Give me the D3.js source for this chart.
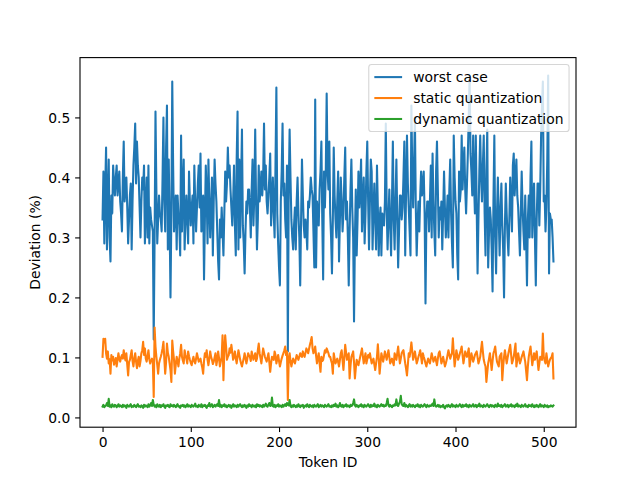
<!DOCTYPE html>
<html><head><meta charset="utf-8">
<script src="https://cdn.jsdelivr.net/npm/d3@7"></script>
<style>body{margin:0;background:#fff}svg{display:block}text{font-family:"DejaVu Sans",sans-serif}</style>
</head><body>
<script>
const worstCase = [
0.33,0.41,0.29,0.38,0.45,0.28,0.36,0.43,0.30,0.26,
0.37,0.34,0.42,0.39,0.37,0.40,0.42,0.37,0.39,0.41,
0.36,0.34,0.31,0.40,0.46,0.36,0.38,0.40,0.35,0.29,
0.33,0.37,0.39,0.28,0.36,0.42,0.45,0.49,0.39,0.46,
0.42,0.40,0.35,0.30,0.36,0.40,0.38,0.42,0.29,0.35,
0.40,0.30,0.42,0.29,0.35,0.33,0.32,0.31,0.13,0.30,
0.51,0.38,0.29,0.33,0.37,0.34,0.33,0.31,0.40,0.50,
0.36,0.31,0.45,0.52,0.28,0.43,0.33,0.20,0.34,0.56,
0.42,0.31,0.34,0.37,0.28,0.37,0.34,0.32,0.27,0.47,
0.31,0.38,0.43,0.28,0.33,0.37,0.33,0.29,0.41,0.36,
0.32,0.35,0.37,0.29,0.42,0.36,0.31,0.35,0.39,0.42,
0.35,0.44,0.31,0.34,0.37,0.23,0.33,0.42,0.37,0.29,
0.43,0.36,0.30,0.35,0.40,0.27,0.36,0.43,0.39,0.36,
0.31,0.26,0.23,0.33,0.30,0.35,0.31,0.27,0.34,0.41,
0.36,0.39,0.45,0.40,0.42,0.38,0.35,0.32,0.36,0.42,
0.32,0.27,0.43,0.51,0.28,0.43,0.30,0.39,0.48,0.32,
0.29,0.24,0.31,0.36,0.34,0.38,0.38,0.35,0.30,0.38,
0.43,0.32,0.37,0.48,0.36,0.28,0.33,0.42,0.36,0.38,
0.41,0.37,0.40,0.49,0.38,0.42,0.36,0.34,0.37,0.40,
0.44,0.32,0.36,0.40,0.34,0.30,0.42,0.55,0.34,0.29,
0.25,0.22,0.36,0.41,0.49,0.37,0.39,0.33,0.30,0.42,
0.11,0.38,0.48,0.40,0.33,0.30,0.28,0.32,0.35,0.28,
0.36,0.40,0.34,0.30,0.22,0.33,0.43,0.37,0.32,0.30,
0.33,0.31,0.28,0.36,0.35,0.37,0.40,0.38,0.37,0.31,
0.25,0.53,0.25,0.36,0.34,0.32,0.38,0.41,0.46,0.33,
0.23,0.41,0.35,0.41,0.54,0.41,0.38,0.46,0.34,0.30,
0.24,0.33,0.45,0.37,0.33,0.30,0.36,0.41,0.26,0.33,
0.40,0.36,0.31,0.34,0.40,0.45,0.33,0.36,0.30,0.22,
0.31,0.38,0.43,0.35,0.30,0.16,0.30,0.38,0.27,0.33,
0.41,0.35,0.38,0.43,0.31,0.36,0.40,0.29,0.34,0.41,
0.46,0.36,0.28,0.36,0.43,0.41,0.28,0.34,0.39,0.33,
0.28,0.42,0.35,0.27,0.33,0.35,0.27,0.34,0.33,0.32,
0.36,0.49,0.35,0.28,0.33,0.38,0.32,0.27,0.36,0.46,
0.33,0.28,0.36,0.43,0.33,0.25,0.31,0.37,0.37,0.33,
0.35,0.40,0.46,0.27,0.38,0.47,0.39,0.35,0.31,0.27,
0.52,0.41,0.35,0.42,0.50,0.35,0.27,0.32,0.36,0.31,
0.37,0.41,0.37,0.39,0.41,0.34,0.19,0.33,0.36,0.36,
0.31,0.36,0.42,0.30,0.44,0.36,0.31,0.27,0.41,0.46,
0.38,0.30,0.35,0.33,0.36,0.28,0.34,0.41,0.35,0.30,
0.33,0.37,0.30,0.38,0.43,0.34,0.29,0.25,0.47,0.40,
0.36,0.34,0.27,0.23,0.41,0.36,0.38,0.47,0.38,0.42,
0.45,0.38,0.34,0.39,0.44,0.50,0.57,0.44,0.41,0.37,
0.47,0.39,0.34,0.47,0.35,0.24,0.33,0.41,0.47,0.40,
0.36,0.42,0.47,0.34,0.27,0.41,0.48,0.25,0.31,0.35,
0.33,0.28,0.21,0.36,0.47,0.30,0.24,0.34,0.40,0.33,
0.27,0.35,0.39,0.32,0.28,0.20,0.32,0.39,0.34,0.30,
0.27,0.33,0.40,0.36,0.31,0.42,0.44,0.37,0.40,0.43,
0.37,0.35,0.31,0.27,0.34,0.41,0.35,0.31,0.28,0.37,
0.30,0.22,0.33,0.37,0.30,0.40,0.46,0.30,0.35,0.39,
0.30,0.22,0.33,0.39,0.39,0.32,0.38,0.47,0.52,0.56,
0.36,0.37,0.31,0.35,0.43,0.57,0.24,0.34,0.33,0.33,
0.30,0.26];

const staticQuant = [
.101,.131,.125,.131,.107,.098,.110,.090,.097,.073,
.104,.095,.101,.088,.093,.099,.085,.096,.107,.097,
.093,.100,.104,.098,.112,.101,.095,.107,.088,.070,
.092,.096,.104,.112,.094,.085,.098,.107,.093,.082,
.094,.101,.085,.094,.107,.112,.126,.104,.115,.098,
.093,.102,.112,.097,.090,.095,.098,.092,.034,.150,
.118,.101,.088,.073,.090,.096,.101,.107,.115,.126,
.098,.073,.092,.123,.108,.101,.090,.079,.059,.128,
.110,.096,.073,.088,.101,.094,.085,.098,.107,.121,
.101,.095,.090,.112,.104,.098,.090,.110,.102,.096,
.091,.087,.095,.101,.094,.090,.098,.107,.100,.093,
.095,.098,.090,.083,.073,.094,.107,.101,.112,.096,
.087,.098,.110,.101,.096,.089,.093,.100,.107,.087,
.096,.110,.099,.085,.093,.101,.137,.062,.112,.137,
.118,.096,.101,.104,.115,.108,.121,.109,.096,.101,
.110,.098,.090,.101,.112,.104,.096,.090,.085,.092,
.098,.107,.099,.090,.097,.107,.103,.101,.094,.110,
.103,.096,.101,.107,.094,.098,.112,.123,.107,.099,
.090,.103,.115,.108,.101,.097,.093,.100,.107,.092,
.076,.090,.101,.098,.096,.110,.104,.090,.097,.104,
.094,.085,.092,.098,.103,.107,.112,.118,.104,.110,
.029,.098,.107,.094,.085,.092,.098,.094,.090,.097,
.104,.100,.096,.101,.107,.103,.101,.110,.104,.101,
.108,.115,.111,.107,.114,.121,.127,.134,.115,.107,
.112,.118,.103,.090,.099,.107,.090,.076,.101,.094,
.096,.104,.112,.108,.115,.111,.107,.101,.101,.095,
.090,.073,.107,.098,.090,.094,.098,.092,.085,.096,
.107,.112,.095,.079,.100,.121,.108,.096,.102,.107,
.065,.086,.101,.105,.110,.092,.065,.082,.096,.091,
.087,.094,.101,.108,.115,.102,.090,.098,.107,.090,
.097,.104,.100,.107,.098,.090,.094,.098,.088,.079,
.090,.101,.122,.099,.073,.090,.107,.100,.093,.101,
.110,.103,.096,.104,.112,.101,.090,.094,.098,.092,
.087,.107,.101,.096,.107,.118,.103,.090,.098,.107,
.110,.112,.101,.090,.081,.070,.088,.107,.101,.112,
.125,.110,.096,.103,.110,.100,.090,.095,.101,.106,
.112,.101,.090,.107,.101,.096,.090,.085,.092,.098,
.094,.090,.098,.107,.100,.093,.097,.101,.094,.087,
.098,.107,.110,.100,.090,.095,.101,.093,.085,.090,
.096,.104,.112,.105,.098,.103,.107,.132,.107,.085,
.098,.112,.104,.096,.101,.107,.112,.118,.104,.090,
.100,.110,.105,.101,.108,.115,.085,.096,.107,.100,
.093,.098,.104,.107,.110,.100,.090,.095,.101,.114,
.126,.110,.096,.090,.085,.059,.075,.090,.098,.107,
.093,.079,.094,.107,.112,.118,.104,.093,.089,.085,
.101,.104,.107,.062,.085,.101,.112,.101,.090,.099,
.107,.114,.121,.105,.090,.095,.101,.112,.123,.085,
.096,.107,.098,.090,.095,.101,.105,.110,.101,.093,
.078,.062,.085,.101,.110,.118,.103,.087,.097,.107,
.096,.103,.110,.095,.079,.090,.101,.098,.096,.140,
.101,.095,.090,.107,.096,.085,.091,.096,.099,.101,
.107,.065];

const dynamicQuant = [
.018,.021,.017,.019,.020,.024,.019,.031,.018,.020,
.017,.022,.019,.018,.021,.020,.017,.019,.022,.018,
.020,.019,.017,.021,.018,.020,.019,.016,.021,.019,
.018,.020,.022,.017,.019,.018,.021,.019,.017,.020,
.022,.018,.019,.017,.020,.019,.016,.021,.018,.020,
.019,.017,.022,.018,.020,.024,.019,.029,.021,.018,
.020,.017,.022,.019,.018,.021,.017,.020,.019,.022,
.018,.016,.020,.019,.021,.018,.017,.022,.019,.020,
.018,.021,.019,.017,.020,.022,.018,.019,.016,.020,
.019,.021,.018,.020,.017,.019,.022,.018,.020,.019,
.017,.021,.019,.018,.020,.023,.018,.019,.017,.021,
.019,.018,.022,.017,.020,.019,.021,.018,.016,.020,
.019,.024,.018,.020,.022,.017,.019,.021,.018,.020,
.022,.019,.029,.018,.021,.017,.020,.019,.022,.018,
.020,.017,.019,.021,.018,.020,.016,.019,.022,.018,
.020,.019,.017,.021,.018,.020,.022,.019,.017,.020,
.018,.021,.019,.016,.020,.018,.022,.019,.020,.017,
.021,.019,.018,.020,.017,.022,.019,.021,.018,.020,
.019,.017,.021,.018,.020,.023,.019,.018,.021,.024,
.019,.020,.033,.019,.018,.021,.017,.020,.019,.022,
.018,.020,.019,.017,.021,.018,.020,.022,.019,.024,
.021,.020,.029,.019,.017,.020,.018,.021,.019,.017,
.020,.018,.022,.019,.017,.020,.019,.021,.016,.019,
.020,.018,.022,.019,.017,.021,.019,.018,.020,.017,
.021,.019,.018,.020,.022,.017,.019,.021,.018,.020,
.019,.017,.021,.019,.018,.020,.022,.018,.019,.017,
.020,.018,.021,.019,.023,.018,.020,.017,.019,.024,
.019,.018,.021,.017,.020,.019,.022,.018,.020,.019,
.017,.021,.019,.020,.024,.030,.020,.018,.021,.019,
.017,.020,.019,.022,.018,.020,.017,.021,.019,.018,
.020,.022,.019,.017,.021,.018,.020,.019,.023,.018,
.020,.017,.021,.019,.018,.020,.022,.019,.021,.018,
.020,.019,.024,.031,.020,.018,.021,.019,.017,.020,
.019,.022,.020,.030,.021,.019,.023,.026,.036,.022,
.020,.019,.024,.018,.021,.019,.017,.020,.022,.018,
.020,.018,.021,.019,.017,.020,.019,.022,.018,.020,
.017,.021,.019,.018,.020,.022,.019,.017,.021,.019,
.018,.020,.019,.021,.023,.019,.030,.020,.018,.019,
.021,.018,.020,.017,.019,.018,.021,.017,.015,.019,
.020,.018,.021,.019,.017,.020,.022,.018,.020,.019,
.017,.021,.019,.018,.020,.022,.019,.017,.021,.018,
.020,.019,.022,.018,.020,.017,.021,.019,.018,.020,
.022,.018,.019,.021,.017,.020,.019,.023,.018,.020,
.019,.017,.021,.019,.018,.020,.022,.019,.017,.020,
.021,.018,.020,.019,.017,.021,.019,.018,.023,.019,
.020,.018,.021,.017,.019,.020,.022,.018,.019,.021,
.017,.020,.019,.022,.018,.020,.019,.017,.021,.019,
.023,.018,.020,.019,.017,.021,.019,.018,.020,.022,
.018,.019,.017,.021,.019,.020,.018,.022,.019,.017,
.020,.018,.021,.019,.017,.020,.022,.018,.020,.019,
.017,.021,.019,.018,.020,.017,.019,.018,.020,.019,
.018,.020];

const seriesNames = ["worst case", "static quantization", "dynamic quantization"];
const seriesColors = ["#1f77b4", "#ff7f0e", "#2ca02c"];
const xTicks = [0, 100, 200, 300, 400, 500];
const yTicks = [0.0, 0.1, 0.2, 0.3, 0.4, 0.5];
const xLabel = "Token ID";
const yLabel = "Deviation (%)";

const W = 640, H = 480;
const L = 80, R = 576, T = 57.6, B = 427.2;
const FS = 13.89;

const svg = d3.select("body").append("svg").attr("width", W).attr("height", H);
const x = d3.scaleLinear().domain([-25.55, 536.55]).range([L, R]);
const y = d3.scaleLinear().domain([-0.0163, 0.5997]).range([B, T]);

const allSeries = [worstCase, staticQuant, dynamicQuant];
const line = d3.line().x((d, i) => x(i)).y(d => y(d));

const g = svg.append("g");
allSeries.forEach((s, k) => {
  g.append("path").datum(s).attr("d", line)
    .attr("fill", "none").attr("stroke", seriesColors[k])
    .attr("stroke-width", 2.08).attr("stroke-linejoin", "round").attr("stroke-linecap", "square");
});

// axes
const xAxis = d3.axisBottom(x).tickValues(xTicks).tickFormat(d3.format("d")).tickSize(4.86).tickPadding(4.5);
const yAxis = d3.axisLeft(y).tickValues(yTicks).tickFormat(d3.format(".1f")).tickSize(4.86).tickPadding(4.86);
const gx = svg.append("g").attr("transform", `translate(0,${B})`).call(xAxis);
const gy = svg.append("g").attr("transform", `translate(${L},0)`).call(yAxis);
[gx, gy].forEach(a => {
  a.select(".domain").remove();
  a.selectAll(".tick line").attr("stroke", "#000").attr("stroke-width", 1.1);
  a.selectAll(".tick text").attr("font-size", FS).attr("fill", "#000").attr("font-family", "DejaVu Sans");
});
gx.selectAll(".tick text").attr("dy", "0.76em");
gy.selectAll(".tick text").attr("dy", "0.36em");

svg.append("rect").attr("x", L).attr("y", T).attr("width", R - L).attr("height", B - T)
  .attr("fill", "none").attr("stroke", "#000").attr("stroke-width", 1.1);

svg.append("text").attr("x", (L + R) / 2).attr("y", 467).attr("text-anchor", "middle")
  .attr("font-size", FS).text(xLabel);
svg.append("text").attr("transform", `translate(39.5,${(T + B) / 2}) rotate(-90)`)
  .attr("text-anchor", "middle").attr("font-size", FS).text(yLabel);

// legend
const lg = svg.append("g");
const pad = 0.4 * FS, handleLen = 2 * FS, handleGap = 0.8 * FS, rowH = 14, rowGap = 0.5 * FS;
const texts = seriesNames.map(n => lg.append("text").attr("font-size", FS).text(n));
const maxW = d3.max(texts, t => t.node().getComputedTextLength());
const boxW = pad * 2 + handleLen + handleGap + maxW;
const boxH = pad * 2 + rowH * 3 + rowGap * 2;
const boxR = R - 0.5 * FS, boxT = T + 0.5 * FS, boxL = boxR - boxW;
lg.insert("rect", "text").attr("x", boxL).attr("y", boxT).attr("width", boxW).attr("height", boxH)
  .attr("rx", 2.8).attr("fill", "rgba(255,255,255,0.8)").attr("stroke", "rgba(204,204,204,0.8)").attr("stroke-width", 1.1);
seriesNames.forEach((n, k) => {
  const cy = boxT + pad + rowH / 2 + k * (rowH + rowGap);
  lg.append("line").attr("x1", boxL + pad).attr("x2", boxL + pad + handleLen).attr("y1", cy).attr("y2", cy)
    .attr("stroke", seriesColors[k]).attr("stroke-width", 2.08);
  texts[k].attr("x", boxL + pad + handleLen + handleGap).attr("y", cy + 5);
});
</script>
</body></html>
